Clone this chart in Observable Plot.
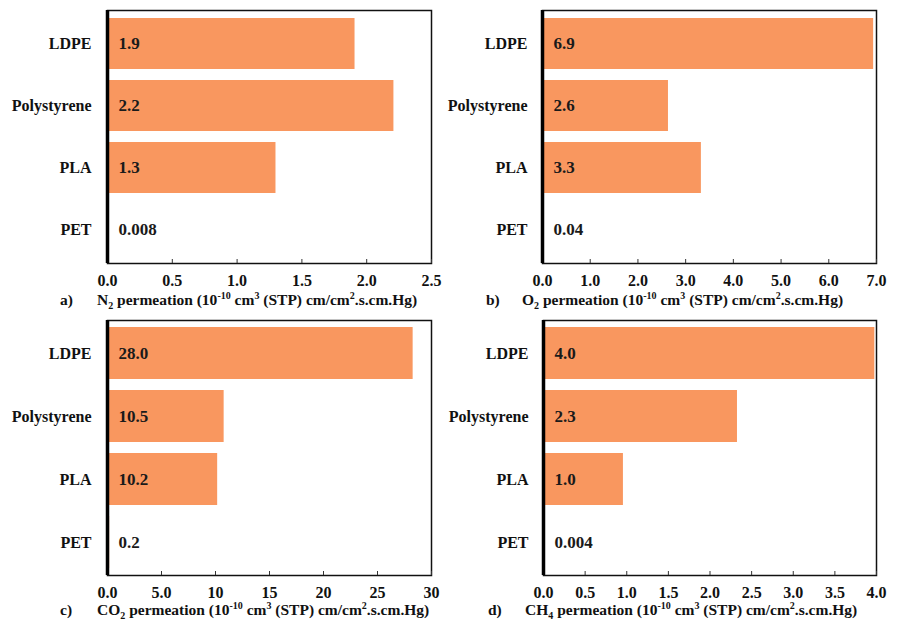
<!DOCTYPE html>
<html><head><meta charset="utf-8">
<script src="https://cdn.jsdelivr.net/npm/d3@7"></script>
<script src="https://cdn.jsdelivr.net/npm/@observablehq/plot@0.6"></script>
<style>
body{margin:0;background:#fff;font-family:"Liberation Serif","DejaVu Serif",serif;font-weight:bold;}
#wrap{display:grid;grid-template-columns:449px 449px;width:898px;}
.panel{position:relative;width:449px;height:310px;}
.panel svg{display:block;overflow:visible;}
.cap{position:absolute;top:291px;font-size:15.5px;line-height:18px;white-space:nowrap;color:#111;}
.cap sub,.cap sup{font-size:10px;line-height:0;}
</style></head><body><div id="wrap"></div>
<script>
const polymers = ["LDPE", "Polystyrene", "PLA", "PET"];

const n2Values = [1.91, 2.21, 1.30, 0.008];
const n2Labels = ["1.9", "2.2", "1.3", "0.008"];
const n2Ticks = [0, 0.5, 1.0, 1.5, 2.0, 2.5];
const n2TickLabels = ["0.0", "0.5", "1.0", "1.5", "2.0", "2.5"];

const o2Values = [6.94, 2.64, 3.33, 0.04];
const o2Labels = ["6.9", "2.6", "3.3", "0.04"];
const o2Ticks = [0, 1, 2, 3, 4, 5, 6, 7];
const o2TickLabels = ["0.0", "1.0", "2.0", "3.0", "4.0", "5.0", "6.0", "7.0"];

const co2Values = [28.3, 10.8, 10.2, 0.2];
const co2Labels = ["28.0", "10.5", "10.2", "0.2"];
const co2Ticks = [0, 5, 10, 15, 20, 25, 30];
const co2TickLabels = ["0.0", "5.0", "10", "15", "20", "25", "30"];

const ch4Values = [3.98, 2.33, 0.96, 0.004];
const ch4Labels = ["4.0", "2.3", "1.0", "0.004"];
const ch4Ticks = [0, 0.5, 1.0, 1.5, 2.0, 2.5, 3.0, 3.5, 4.0];
const ch4TickLabels = ["0.0", "0.5", "1.0", "1.5", "2.0", "2.5", "3.0", "3.5", "4.0"];

const panels = [
  {tag: "a)", gas: "N<sub>2</sub>", values: n2Values, labels: n2Labels, ticks: n2Ticks, tickLabels: n2TickLabels,
   ml: 107, mr: 18, mt: 10, mb: 29, tagX: 60, titleX: 97, pad: 16},
  {tag: "b)", gas: "O<sub>2</sub>", values: o2Values, labels: o2Labels, ticks: o2Ticks, tickLabels: o2TickLabels,
   ml: 93, mr: 22, mt: 10, mb: 29, tagX: 37, titleX: 73, pad: 15},
  {tag: "c)", gas: "CO<sub>2</sub>", values: co2Values, labels: co2Labels, ticks: co2Ticks, tickLabels: co2TickLabels,
   ml: 107, mr: 18, mt: 10, mb: 27, tagX: 60, titleX: 97, pad: 16},
  {tag: "d)", gas: "CH<sub>4</sub>", values: ch4Values, labels: ch4Labels, ticks: ch4Ticks, tickLabels: ch4TickLabels,
   ml: 94, mr: 22, mt: 10, mb: 27, tagX: 39, titleX: 76, pad: 15}
];

const wrap = document.getElementById("wrap");
for (const p of panels) {
  const rows = polymers.map((name, i) => ({polymer: name, value: p.values[i], label: p.labels[i]}));
  const fmt = d => p.tickLabels[p.ticks.indexOf(d)] ?? "";
  const div = document.createElement("div");
  div.className = "panel";
  const chart = Plot.plot({
    width: 449, height: 292,
    marginLeft: p.ml, marginRight: p.mr, marginTop: p.mt, marginBottom: p.mb,
    style: {fontFamily: "'Liberation Serif', 'DejaVu Serif', serif", fontWeight: "bold", fontSize: "16px", color: "#111", background: "white", overflow: "visible"},
    x: {domain: [p.ticks[0], p.ticks[p.ticks.length - 1]]},
    y: {domain: polymers, paddingInner: 0.17, paddingOuter: 0.1},
    marks: [
      Plot.barX(rows, {x: "value", y: "polymer", fill: "#F9975F"}),
      Plot.text(rows, {y: "polymer", text: "label", frameAnchor: "left", dx: 11, textAnchor: "start", fill: "#1a1a1a", fontSize: 17, fontWeight: "bold"}),
      Plot.frame({stroke: "#111", strokeWidth: 1.5}),
      Plot.axisX({ticks: p.ticks, tickFormat: fmt, tickSize: -4, tickPadding: 15, label: null, stroke: "#333", fontSize: 16}),
      Plot.axisY({tickSize: 0, tickPadding: p.pad, label: null, fontSize: 16}),
      Plot.ruleX([0], {stroke: "#000", strokeWidth: 3.5})
    ]
  });
  div.appendChild(chart);
  const tag = document.createElement("div");
  tag.className = "cap"; tag.style.left = p.tagX + "px"; tag.textContent = p.tag;
  const title = document.createElement("div");
  title.className = "cap"; title.style.left = p.titleX + "px";
  title.innerHTML = `${p.gas} permeation (10<sup>-10</sup> cm<sup>3</sup> (STP) cm/cm<sup>2</sup>.s.cm.Hg)`;
  div.appendChild(tag); div.appendChild(title);
  wrap.appendChild(div);
}
</script></body></html>
